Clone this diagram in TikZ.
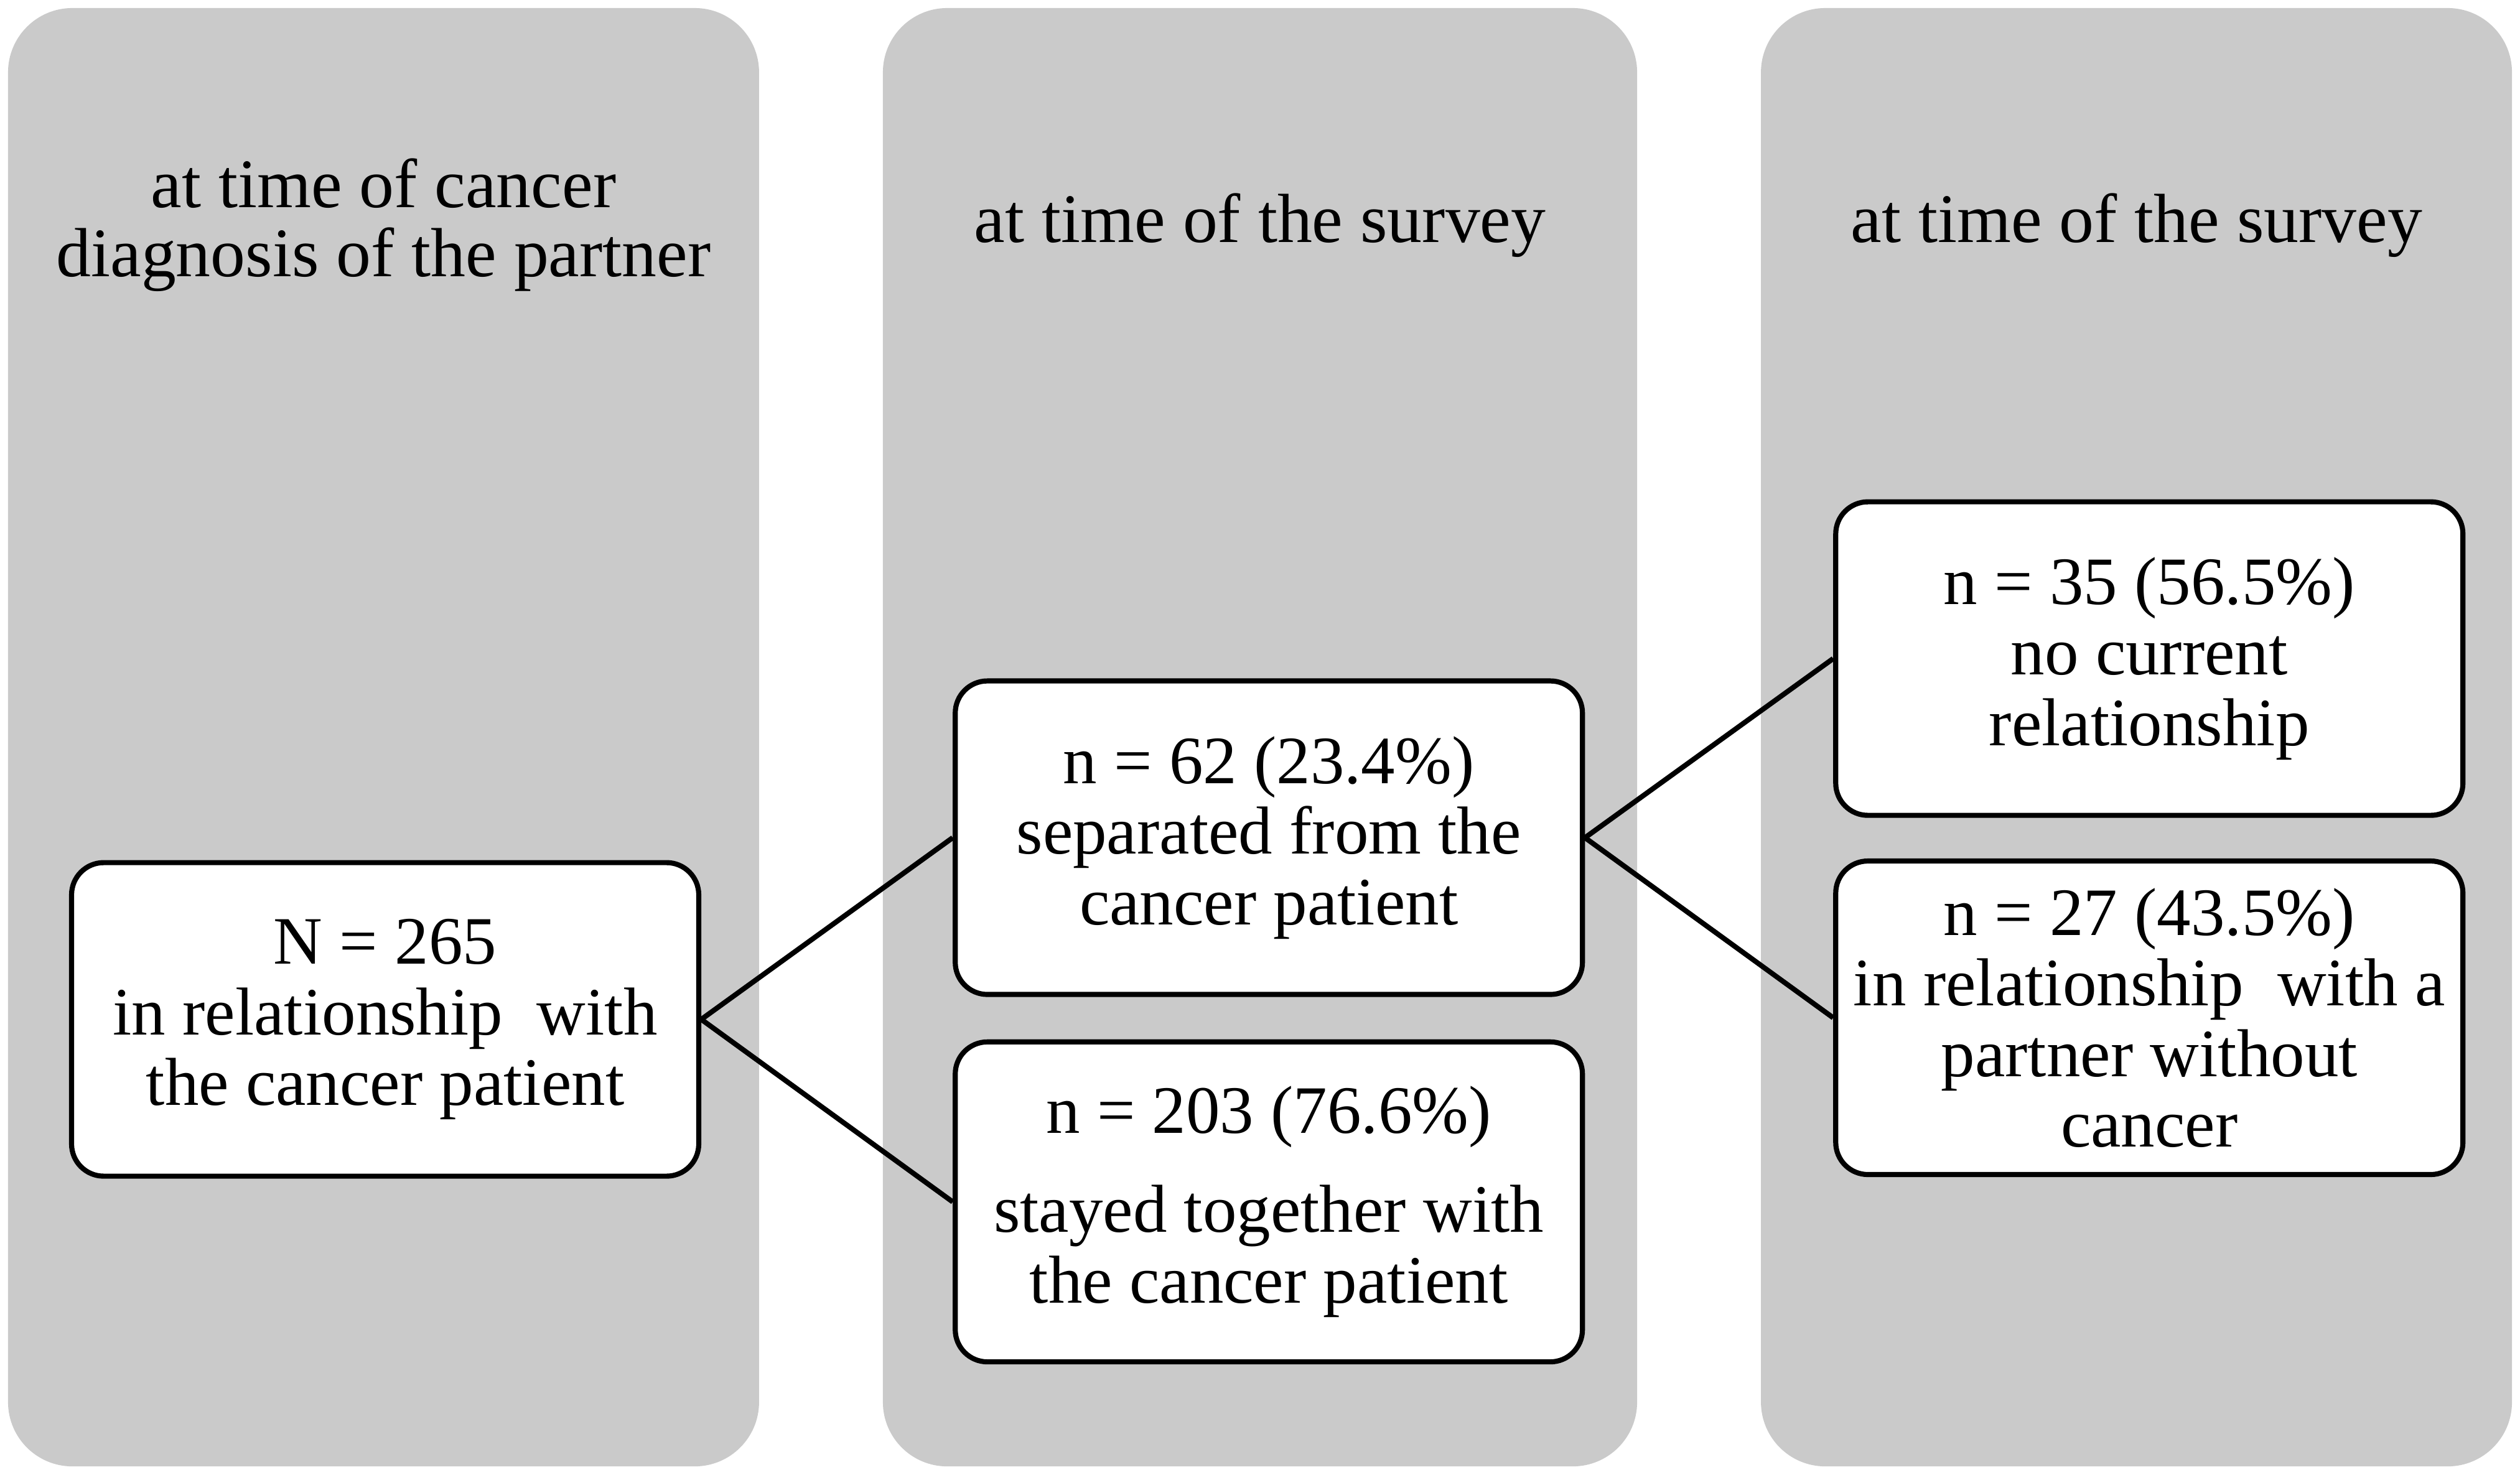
\documentclass[tikz,border=0pt]{standalone}
\usepackage{fontspec}
\setmainfont{Liberation Serif}
\usetikzlibrary{positioning}
\definecolor{panelGray}{RGB}{202,202,202}

\begin{document}
\begin{tikzpicture}[
    box/.style={draw, fill=white, line width=0.9pt, rounded corners=0.2cm,
        minimum width=3.9cm, minimum height=1.95cm, inner sep=0pt,
        align=center, font=\fontsize{12}{12.5}\selectfont},
    head/.style={align=center, font=\fontsize{12.3}{12.3}\selectfont},
    link/.style={line width=0.9pt}
]
    \useasboundingbox (0,0) rectangle (15.67,9.17);

    % the three time columns
    \fill[panelGray, rounded corners=0.4cm] (0.05,0.05) rectangle (4.72,9.12);
    \fill[panelGray, rounded corners=0.4cm] (5.49,0.05) rectangle (10.18,9.12);
    \fill[panelGray, rounded corners=0.4cm] (10.95,0.05) rectangle (15.62,9.12);

    % column headings
    \node[head] (diag) at (2.385,7.77) {at time of cancer\\diagnosis of the partner};
    \node[head] (survA) at (7.835,7.77) {at time of the survey};
    \node[head] (survB) at (13.285,7.77) {at time of the survey};

    % boxes
    \node[box] (all) at (2.395,2.83) {N = 265\\in relationship~ with\\the cancer patient};
    \node[box] (sep) at (7.89,3.96) {n = 62 (23.4\%)\\separated from the\\cancer patient};
    \node[box, minimum height=1.99cm] (stay) at (7.89,1.695)
        {n = 203 (76.6\%)\\[5pt]stayed together with\\the cancer patient};
    \node[box] (single) at (13.365,5.074) {n = 35 (56.5\%)\\no current\\relationship};
    \node[box] (newp) at (13.365,2.84)
        {n = 27 (43.5\%)\\in relationship~ with a\\partner without\\cancer};

    % branches
    \draw[link] (all.east) -- (sep.west);
    \draw[link] (all.east) -- (stay.west);
    \draw[link] (sep.east) -- (single.west);
    \draw[link] (sep.east) -- (newp.west);
\end{tikzpicture}
\end{document}
